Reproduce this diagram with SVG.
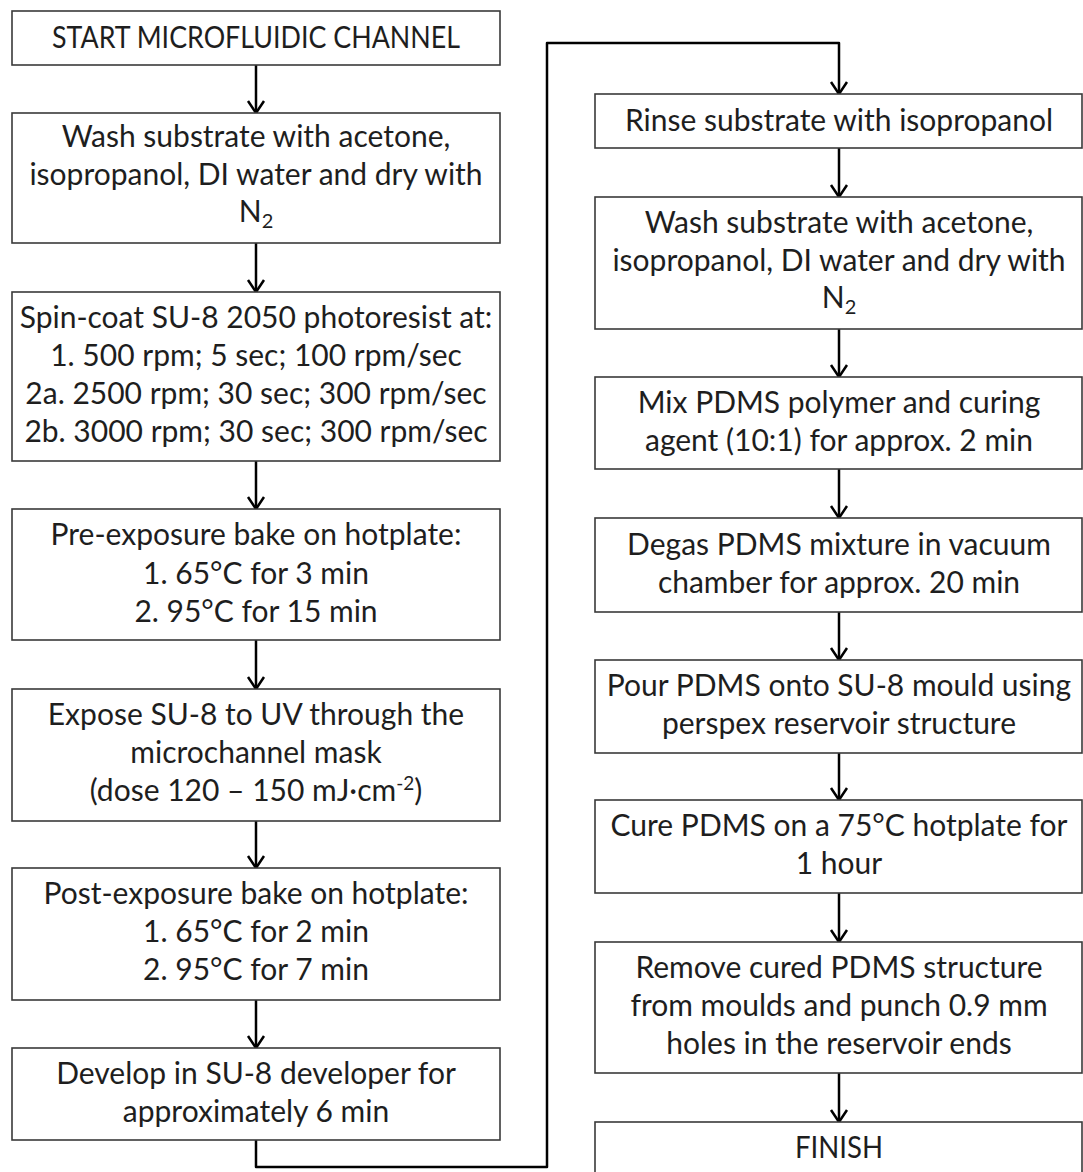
<svg xmlns="http://www.w3.org/2000/svg" width="1083" height="1172" viewBox="0 0 1083 1172">
<defs>
<style>
.box{fill:#fff;stroke:#3a3a3a;stroke-width:1.6}
.t{font-family:Lato,"Open Sans",sans-serif;font-size:30px;fill:#1e1e1e;text-anchor:middle}
.c{fill:none;stroke:#000;stroke-width:2.5;stroke-linejoin:round}
</style>
<marker id="ah" markerUnits="userSpaceOnUse" markerWidth="30" markerHeight="30" viewBox="-15 -15 30 30" refX="0" refY="0" orient="auto" overflow="visible">
<path d="M-12,-8 L0,0 L-12,8" fill="none" stroke="#000" stroke-width="2.5" stroke-linejoin="miter"/>
</marker>
</defs>
<rect width="1083" height="1172" fill="#fff"/>
<g id="connectors">
<line class="c" x1="256" y1="65" x2="256" y2="113" marker-end="url(#ah)"/>
<line class="c" x1="256" y1="243" x2="256" y2="292" marker-end="url(#ah)"/>
<line class="c" x1="256" y1="461" x2="256" y2="509" marker-end="url(#ah)"/>
<line class="c" x1="256" y1="640" x2="256" y2="689" marker-end="url(#ah)"/>
<line class="c" x1="256" y1="821" x2="256" y2="868" marker-end="url(#ah)"/>
<line class="c" x1="256" y1="1000" x2="256" y2="1048" marker-end="url(#ah)"/>
<path class="c" d="M256,1140 V1167 H547 V43 H839 V94" marker-end="url(#ah)"/>
<line class="c" x1="839" y1="148" x2="839" y2="197" marker-end="url(#ah)"/>
<line class="c" x1="839" y1="329" x2="839" y2="377" marker-end="url(#ah)"/>
<line class="c" x1="839" y1="469" x2="839" y2="518" marker-end="url(#ah)"/>
<line class="c" x1="839" y1="612" x2="839" y2="660" marker-end="url(#ah)"/>
<line class="c" x1="839" y1="753" x2="839" y2="800" marker-end="url(#ah)"/>
<line class="c" x1="839" y1="893" x2="839" y2="942" marker-end="url(#ah)"/>
<line class="c" x1="839" y1="1073" x2="839" y2="1122" marker-end="url(#ah)"/>
</g>
<g id="start">
<rect class="box" x="12" y="11" width="488" height="54"/>
<text class="t" x="256" y="48" textLength="408" lengthAdjust="spacingAndGlyphs">START MICROFLUIDIC CHANNEL</text>
</g>
<g id="wash1">
<rect class="box" x="12" y="113" width="488" height="130"/>
<text class="t" x="256" y="147">Wash substrate with acetone,</text>
<text class="t" x="256" y="185">isopropanol, DI water and dry with</text>
<text class="t" x="256" y="222">N<tspan font-size="20" dy="6">2</tspan></text>
</g>
<g id="spincoat">
<rect class="box" x="12" y="292" width="488" height="169"/>
<text class="t" x="256" y="328">Spin-coat SU-8 2050 photoresist at:</text>
<text class="t" x="256" y="366">1. 500 rpm; 5 sec; 100 rpm/sec</text>
<text class="t" x="256" y="404">2a. 2500 rpm; 30 sec; 300 rpm/sec</text>
<text class="t" x="256" y="442">2b. 3000 rpm; 30 sec; 300 rpm/sec</text>
</g>
<g id="prebake">
<rect class="box" x="12" y="509" width="488" height="131"/>
<text class="t" x="256" y="545">Pre-exposure bake on hotplate:</text>
<text class="t" x="256" y="584">1. 65°C for 3 min</text>
<text class="t" x="256" y="622">2. 95°C for 15 min</text>
</g>
<g id="expose">
<rect class="box" x="12" y="689" width="488" height="132"/>
<text class="t" x="256" y="725">Expose SU-8 to UV through the</text>
<text class="t" x="256" y="763">microchannel mask</text>
<text class="t" x="256" y="801">(dose 120 – 150 mJ·cm<tspan font-size="19" dy="-11">-2</tspan><tspan dy="11">)</tspan></text>
</g>
<g id="postbake">
<rect class="box" x="12" y="868" width="488" height="132"/>
<text class="t" x="256" y="904">Post-exposure bake on hotplate:</text>
<text class="t" x="256" y="942">1. 65°C for 2 min</text>
<text class="t" x="256" y="980">2. 95°C for 7 min</text>
</g>
<g id="develop">
<rect class="box" x="12" y="1048" width="488" height="92"/>
<text class="t" x="256" y="1084">Develop in SU-8 developer for</text>
<text class="t" x="256" y="1122">approximately 6 min</text>
</g>
<g id="rinse">
<rect class="box" x="595" y="94" width="487" height="54"/>
<text class="t" x="839" y="131">Rinse substrate with isopropanol</text>
</g>
<g id="wash2">
<rect class="box" x="595" y="197" width="487" height="132"/>
<text class="t" x="839" y="233">Wash substrate with acetone,</text>
<text class="t" x="839" y="271">isopropanol, DI water and dry with</text>
<text class="t" x="839" y="308">N<tspan font-size="20" dy="6">2</tspan></text>
</g>
<g id="mix">
<rect class="box" x="595" y="377" width="487" height="92"/>
<text class="t" x="839" y="413">Mix PDMS polymer and curing</text>
<text class="t" x="839" y="451">agent (10:1) for approx. 2 min</text>
</g>
<g id="degas">
<rect class="box" x="595" y="518" width="487" height="94"/>
<text class="t" x="839" y="555">Degas PDMS mixture in vacuum</text>
<text class="t" x="839" y="593">chamber for approx. 20 min</text>
</g>
<g id="pour">
<rect class="box" x="595" y="660" width="487" height="93"/>
<text class="t" x="839" y="696">Pour PDMS onto SU-8 mould using</text>
<text class="t" x="839" y="734">perspex reservoir structure</text>
</g>
<g id="cure">
<rect class="box" x="595" y="800" width="487" height="93"/>
<text class="t" x="839" y="836">Cure PDMS on a 75°C hotplate for</text>
<text class="t" x="839" y="874">1 hour</text>
</g>
<g id="remove">
<rect class="box" x="595" y="942" width="487" height="131"/>
<text class="t" x="839" y="978">Remove cured PDMS structure</text>
<text class="t" x="839" y="1016">from moulds and punch 0.9 mm</text>
<text class="t" x="839" y="1054">holes in the reservoir ends</text>
</g>
<g id="finish">
<rect class="box" x="595" y="1122" width="487" height="56"/>
<text class="t" x="839" y="1158" textLength="88" lengthAdjust="spacingAndGlyphs">FINISH</text>
</g>
</svg>
